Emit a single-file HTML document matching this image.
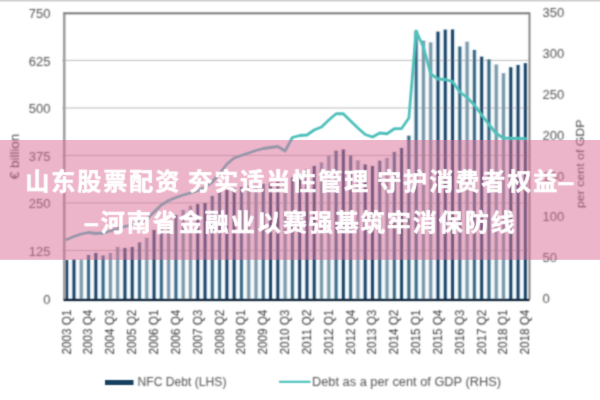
<!DOCTYPE html>
<html><head><meta charset="utf-8"><title>chart</title>
<style>html,body{margin:0;padding:0;background:#fff;}body{width:600px;height:400px;overflow:hidden;font-family:"Liberation Sans",sans-serif;}svg{display:block}</style>
</head><body>
<svg width="600" height="400" viewBox="0 0 600 400">
<defs><filter id="b" filterUnits="userSpaceOnUse" x="0" y="0" width="600" height="400"><feConvolveMatrix order="5" kernelMatrix="0.00003 0.00101 0.00331 0.00101 0.00003 0.00101 0.03529 0.11525 0.03529 0.00101 0.00331 0.11525 0.37636 0.11525 0.00331 0.00101 0.03529 0.11525 0.03529 0.00101 0.00003 0.00101 0.00331 0.00101 0.00003" edgeMode="none" preserveAlpha="false"/></filter>
<filter id="b3" filterUnits="userSpaceOnUse" x="0" y="0" width="600" height="400"><feConvolveMatrix order="5" kernelMatrix="0.00048 0.00501 0.01095 0.00501 0.00048 0.00501 0.05222 0.11405 0.05222 0.00501 0.01095 0.11405 0.24912 0.11405 0.01095 0.00501 0.05222 0.11405 0.05222 0.00501 0.00048 0.00501 0.01095 0.00501 0.00048" edgeMode="none" preserveAlpha="false"/></filter>
<filter id="b2" filterUnits="userSpaceOnUse" x="0" y="0" width="600" height="400"><feConvolveMatrix order="3" kernelMatrix="0.01134 0.08382 0.01134 0.08382 0.61935 0.08382 0.01134 0.08382 0.01134" edgeMode="none" preserveAlpha="false"/></filter></defs>
<rect width="600" height="400" fill="#fff"/>
<rect x="0" y="0" width="600" height="1.6" fill="#d2d2d2"/>
<g filter="url(#b)">
<rect x="62" y="59.9" width="467" height="1.1" fill="#c4c4c4"/>
<rect x="62" y="107.4" width="467" height="1.1" fill="#c4c4c4"/>
<rect x="62" y="154.9" width="467" height="1.1" fill="#c4c4c4"/>
<rect x="62" y="202.4" width="467" height="1.1" fill="#c4c4c4"/>
<rect x="62" y="249.9" width="467" height="1.1" fill="#c4c4c4"/>
<rect x="63.90" y="259.5" width="5.6" height="39.60" fill="#5b93b3" fill-opacity="0.2"/>
<rect x="65.25" y="260" width="2.9" height="39.60" fill="#1a4468"/>
<rect x="71.18" y="259.0" width="5.6" height="40.10" fill="#5b93b3" fill-opacity="0.2"/>
<rect x="72.53" y="259.5" width="2.9" height="40.10" fill="#1a4468"/>
<rect x="78.46" y="259.0" width="5.6" height="40.10" fill="#5b93b3" fill-opacity="0.2"/>
<rect x="79.81" y="259.5" width="2.9" height="40.10" fill="#7b99a8"/>
<rect x="85.74" y="254.5" width="5.6" height="44.60" fill="#5b93b3" fill-opacity="0.2"/>
<rect x="87.09" y="255" width="2.9" height="44.60" fill="#3a6a86"/>
<rect x="93.02" y="252.5" width="5.6" height="46.60" fill="#5b93b3" fill-opacity="0.2"/>
<rect x="94.37" y="253" width="2.9" height="46.60" fill="#1a4468"/>
<rect x="100.30" y="255.0" width="5.6" height="44.10" fill="#5b93b3" fill-opacity="0.2"/>
<rect x="101.65" y="255.5" width="2.9" height="44.10" fill="#3a6a86"/>
<rect x="107.58" y="252.5" width="5.6" height="46.60" fill="#5b93b3" fill-opacity="0.2"/>
<rect x="108.93" y="253" width="2.9" height="46.60" fill="#7b99a8"/>
<rect x="114.86" y="246.5" width="5.6" height="52.60" fill="#5b93b3" fill-opacity="0.2"/>
<rect x="116.21" y="247" width="2.9" height="52.60" fill="#7b99a8"/>
<rect x="122.14" y="247.5" width="5.6" height="51.60" fill="#5b93b3" fill-opacity="0.2"/>
<rect x="123.49" y="248" width="2.9" height="51.60" fill="#1a4468"/>
<rect x="129.42" y="246.5" width="5.6" height="52.60" fill="#5b93b3" fill-opacity="0.2"/>
<rect x="130.77" y="247" width="2.9" height="52.60" fill="#1a4468"/>
<rect x="136.70" y="242.0" width="5.6" height="57.10" fill="#5b93b3" fill-opacity="0.2"/>
<rect x="138.05" y="242.5" width="2.9" height="57.10" fill="#3a6a86"/>
<rect x="143.98" y="237.5" width="5.6" height="61.60" fill="#5b93b3" fill-opacity="0.2"/>
<rect x="145.33" y="238" width="2.9" height="61.60" fill="#7b99a8"/>
<rect x="151.26" y="229.5" width="5.6" height="69.60" fill="#5b93b3" fill-opacity="0.2"/>
<rect x="152.61" y="230" width="2.9" height="69.60" fill="#1a4468"/>
<rect x="158.54" y="227.0" width="5.6" height="72.10" fill="#5b93b3" fill-opacity="0.2"/>
<rect x="159.89" y="227.5" width="2.9" height="72.10" fill="#3a6a86"/>
<rect x="165.82" y="224.5" width="5.6" height="74.60" fill="#5b93b3" fill-opacity="0.2"/>
<rect x="167.17" y="225" width="2.9" height="74.60" fill="#7b99a8"/>
<rect x="173.10" y="214.5" width="5.6" height="84.60" fill="#5b93b3" fill-opacity="0.2"/>
<rect x="174.45" y="215" width="2.9" height="84.60" fill="#3a6a86"/>
<rect x="180.38" y="209.5" width="5.6" height="89.60" fill="#5b93b3" fill-opacity="0.2"/>
<rect x="181.73" y="210" width="2.9" height="89.60" fill="#7b99a8"/>
<rect x="187.66" y="205.5" width="5.6" height="93.60" fill="#5b93b3" fill-opacity="0.2"/>
<rect x="189.01" y="206" width="2.9" height="93.60" fill="#7b99a8"/>
<rect x="194.94" y="203.5" width="5.6" height="95.60" fill="#5b93b3" fill-opacity="0.2"/>
<rect x="196.29" y="204" width="2.9" height="95.60" fill="#1a4468"/>
<rect x="202.22" y="202.5" width="5.6" height="96.60" fill="#5b93b3" fill-opacity="0.2"/>
<rect x="203.57" y="203" width="2.9" height="96.60" fill="#1a4468"/>
<rect x="209.50" y="195.5" width="5.6" height="103.60" fill="#5b93b3" fill-opacity="0.2"/>
<rect x="210.85" y="196" width="2.9" height="103.60" fill="#3a6a86"/>
<rect x="216.78" y="191.5" width="5.6" height="107.60" fill="#5b93b3" fill-opacity="0.2"/>
<rect x="218.13" y="192" width="2.9" height="107.60" fill="#3a6a86"/>
<rect x="224.06" y="189.5" width="5.6" height="109.60" fill="#5b93b3" fill-opacity="0.2"/>
<rect x="225.41" y="190" width="2.9" height="109.60" fill="#1a4468"/>
<rect x="231.34" y="188.0" width="5.6" height="111.10" fill="#5b93b3" fill-opacity="0.2"/>
<rect x="232.69" y="188.5" width="2.9" height="111.10" fill="#1a4468"/>
<rect x="238.62" y="186.5" width="5.6" height="112.60" fill="#5b93b3" fill-opacity="0.2"/>
<rect x="239.97" y="187" width="2.9" height="112.60" fill="#3a6a86"/>
<rect x="245.90" y="185.5" width="5.6" height="113.60" fill="#5b93b3" fill-opacity="0.2"/>
<rect x="247.25" y="186" width="2.9" height="113.60" fill="#7b99a8"/>
<rect x="253.18" y="184.5" width="5.6" height="114.60" fill="#5b93b3" fill-opacity="0.2"/>
<rect x="254.53" y="185" width="2.9" height="114.60" fill="#7b99a8"/>
<rect x="260.46" y="183.5" width="5.6" height="115.60" fill="#5b93b3" fill-opacity="0.2"/>
<rect x="261.81" y="184" width="2.9" height="115.60" fill="#3a6a86"/>
<rect x="267.74" y="182.5" width="5.6" height="116.60" fill="#5b93b3" fill-opacity="0.2"/>
<rect x="269.09" y="183" width="2.9" height="116.60" fill="#1a4468"/>
<rect x="275.02" y="181.0" width="5.6" height="118.10" fill="#5b93b3" fill-opacity="0.2"/>
<rect x="276.37" y="181.5" width="2.9" height="118.10" fill="#1a4468"/>
<rect x="282.30" y="179.0" width="5.6" height="120.10" fill="#5b93b3" fill-opacity="0.2"/>
<rect x="283.65" y="179.5" width="2.9" height="120.10" fill="#7b99a8"/>
<rect x="289.58" y="177.0" width="5.6" height="122.10" fill="#5b93b3" fill-opacity="0.2"/>
<rect x="290.93" y="177.5" width="2.9" height="122.10" fill="#3a6a86"/>
<rect x="296.86" y="174.0" width="5.6" height="125.10" fill="#5b93b3" fill-opacity="0.2"/>
<rect x="298.21" y="174.5" width="2.9" height="125.10" fill="#1a4468"/>
<rect x="304.14" y="169.0" width="5.6" height="130.10" fill="#5b93b3" fill-opacity="0.2"/>
<rect x="305.49" y="169.5" width="2.9" height="130.10" fill="#1a4468"/>
<rect x="311.42" y="165.5" width="5.6" height="133.60" fill="#5b93b3" fill-opacity="0.2"/>
<rect x="312.77" y="166" width="2.9" height="133.60" fill="#1a4468"/>
<rect x="318.70" y="162.0" width="5.6" height="137.10" fill="#5b93b3" fill-opacity="0.2"/>
<rect x="320.05" y="162.5" width="2.9" height="137.10" fill="#7b99a8"/>
<rect x="325.98" y="155.5" width="5.6" height="143.60" fill="#5b93b3" fill-opacity="0.2"/>
<rect x="327.33" y="156" width="2.9" height="143.60" fill="#7b99a8"/>
<rect x="333.26" y="150.25" width="5.6" height="148.85" fill="#5b93b3" fill-opacity="0.2"/>
<rect x="334.61" y="150.75" width="2.9" height="148.85" fill="#3a6a86"/>
<rect x="340.54" y="149.0" width="5.6" height="150.10" fill="#5b93b3" fill-opacity="0.2"/>
<rect x="341.89" y="149.5" width="2.9" height="150.10" fill="#1a4468"/>
<rect x="347.82" y="155.0" width="5.6" height="144.10" fill="#5b93b3" fill-opacity="0.2"/>
<rect x="349.17" y="155.5" width="2.9" height="144.10" fill="#3a6a86"/>
<rect x="355.10" y="160.0" width="5.6" height="139.10" fill="#5b93b3" fill-opacity="0.2"/>
<rect x="356.45" y="160.5" width="2.9" height="139.10" fill="#7b99a8"/>
<rect x="362.38" y="164.0" width="5.6" height="135.10" fill="#5b93b3" fill-opacity="0.2"/>
<rect x="363.73" y="164.5" width="2.9" height="135.10" fill="#1a4468"/>
<rect x="369.66" y="165.5" width="5.6" height="133.60" fill="#5b93b3" fill-opacity="0.2"/>
<rect x="371.01" y="166" width="2.9" height="133.60" fill="#1a4468"/>
<rect x="376.94" y="160.25" width="5.6" height="138.85" fill="#5b93b3" fill-opacity="0.2"/>
<rect x="378.29" y="160.75" width="2.9" height="138.85" fill="#3a6a86"/>
<rect x="384.22" y="157.5" width="5.6" height="141.60" fill="#5b93b3" fill-opacity="0.2"/>
<rect x="385.57" y="158" width="2.9" height="141.60" fill="#7b99a8"/>
<rect x="391.50" y="151.5" width="5.6" height="147.60" fill="#5b93b3" fill-opacity="0.2"/>
<rect x="392.85" y="152" width="2.9" height="147.60" fill="#3a6a86"/>
<rect x="398.78" y="147.5" width="5.6" height="151.60" fill="#5b93b3" fill-opacity="0.2"/>
<rect x="400.13" y="148" width="2.9" height="151.60" fill="#1a4468"/>
<rect x="406.06" y="135.25" width="5.6" height="163.85" fill="#5b93b3" fill-opacity="0.2"/>
<rect x="407.41" y="135.75" width="2.9" height="163.85" fill="#3a6a86"/>
<rect x="413.34" y="30.5" width="5.6" height="268.60" fill="#5b93b3" fill-opacity="0.2"/>
<rect x="414.69" y="31" width="2.9" height="268.60" fill="#3a6a86"/>
<rect x="420.62" y="40.2" width="5.6" height="258.90" fill="#5b93b3" fill-opacity="0.2"/>
<rect x="421.97" y="40.7" width="2.9" height="258.90" fill="#7b99a8"/>
<rect x="427.90" y="42.0" width="5.6" height="257.10" fill="#5b93b3" fill-opacity="0.2"/>
<rect x="429.25" y="42.5" width="2.9" height="257.10" fill="#7b99a8"/>
<rect x="435.18" y="31.2" width="5.6" height="267.90" fill="#5b93b3" fill-opacity="0.2"/>
<rect x="436.53" y="31.7" width="2.9" height="267.90" fill="#1a4468"/>
<rect x="442.46" y="29.2" width="5.6" height="269.90" fill="#5b93b3" fill-opacity="0.2"/>
<rect x="443.81" y="29.7" width="2.9" height="269.90" fill="#1a4468"/>
<rect x="449.74" y="29.0" width="5.6" height="270.10" fill="#5b93b3" fill-opacity="0.2"/>
<rect x="451.09" y="29.5" width="2.9" height="270.10" fill="#1a4468"/>
<rect x="457.02" y="46.1" width="5.6" height="253.00" fill="#5b93b3" fill-opacity="0.2"/>
<rect x="458.37" y="46.6" width="2.9" height="253.00" fill="#3a6a86"/>
<rect x="464.30" y="41.3" width="5.6" height="257.80" fill="#5b93b3" fill-opacity="0.2"/>
<rect x="465.65" y="41.8" width="2.9" height="257.80" fill="#7b99a8"/>
<rect x="471.58" y="49.5" width="5.6" height="249.60" fill="#5b93b3" fill-opacity="0.2"/>
<rect x="472.93" y="50" width="2.9" height="249.60" fill="#3a6a86"/>
<rect x="478.86" y="56.2" width="5.6" height="242.90" fill="#5b93b3" fill-opacity="0.2"/>
<rect x="480.21" y="56.7" width="2.9" height="242.90" fill="#1a4468"/>
<rect x="486.14" y="58.9" width="5.6" height="240.20" fill="#5b93b3" fill-opacity="0.2"/>
<rect x="487.49" y="59.4" width="2.9" height="240.20" fill="#3a6a86"/>
<rect x="493.42" y="64.1" width="5.6" height="235.00" fill="#5b93b3" fill-opacity="0.2"/>
<rect x="494.77" y="64.6" width="2.9" height="235.00" fill="#7b99a8"/>
<rect x="500.70" y="72.8" width="5.6" height="226.30" fill="#5b93b3" fill-opacity="0.2"/>
<rect x="502.05" y="73.3" width="2.9" height="226.30" fill="#7b99a8"/>
<rect x="507.98" y="66.8" width="5.6" height="232.30" fill="#5b93b3" fill-opacity="0.2"/>
<rect x="509.33" y="67.3" width="2.9" height="232.30" fill="#1a4468"/>
<rect x="515.26" y="64.5" width="5.6" height="234.60" fill="#5b93b3" fill-opacity="0.2"/>
<rect x="516.61" y="65" width="2.9" height="234.60" fill="#1a4468"/>
<rect x="522.54" y="62.7" width="5.6" height="236.40" fill="#5b93b3" fill-opacity="0.2"/>
<rect x="523.89" y="63.2" width="2.9" height="236.40" fill="#1a4468"/>
<rect x="62.9" y="12.5" width="2.7" height="287" fill="#a2a2a2"/>
<rect x="63.5" y="12.2" width="466.5" height="2.2" fill="#868686"/>
<rect x="528.5" y="12.5" width="2" height="287" fill="#8a8a8a"/>
<rect x="63.5" y="298.8" width="466" height="2.3" fill="#14273b"/>
<polyline points="66.7,239.5 74.0,236.5 81.3,234 88.5,232.5 95.8,233.5 103.1,233 110.4,231 117.7,228.5 124.9,226.5 132.2,224.5 139.5,222 146.8,219 154.1,212 161.3,205 168.6,200.5 175.9,197.5 183.2,195 190.5,193 197.7,190.5 205.0,187.5 212.3,182 219.6,173.5 226.9,164 234.1,158 241.4,155.5 248.7,153 256.0,150.5 263.3,148.5 270.5,147.5 277.8,146.5 285.1,151 292.4,137.5 299.7,135.5 306.9,135 314.2,130 321.5,127 328.8,120 336.1,113.75 343.3,113.75 350.6,121 357.9,128 365.2,134.5 372.5,137 379.7,133 387.0,133.75 394.3,128.75 401.6,128.5 408.9,118 416.1,31 423.4,47 430.7,74 438.0,79 445.3,79.5 452.5,81.5 459.8,92 467.1,97.5 474.4,105 481.7,115 488.9,124.5 496.2,133.5 503.5,138 510.8,138.5 518.1,138.5 525.3,138.75" fill="none" stroke="#4fc0bb" stroke-width="2.8" stroke-linejoin="round" stroke-linecap="round"/>
<rect x="105" y="380" width="28.5" height="5" fill="#123f5f"/>
<rect x="279" y="380.7" width="31.5" height="2.2" fill="#4fc0bb"/>
</g>
<g filter="url(#b3)" font-family="Liberation Sans, sans-serif" font-size="12.5" fill="#505050"><text x="50.5" y="18.0" text-anchor="end" font-size="13">750</text><text x="50.5" y="65.5" text-anchor="end" font-size="13">625</text><text x="50.5" y="113.0" text-anchor="end" font-size="13">500</text><text x="50.5" y="160.5" text-anchor="end" font-size="13">375</text><text x="50.5" y="208.0" text-anchor="end" font-size="13">250</text><text x="50.5" y="255.5" text-anchor="end" font-size="13">125</text><text x="50.5" y="304.0" text-anchor="end" font-size="13">0</text><text x="542.5" y="17.4" font-size="13">350</text><text x="542.5" y="58.18571428571428" font-size="13">300</text><text x="542.5" y="98.97142857142858" font-size="13">250</text><text x="542.5" y="139.75714285714287" font-size="13">200</text><text x="542.5" y="180.54285714285714" font-size="13">150</text><text x="542.5" y="221.32857142857142" font-size="13">100</text><text x="542.5" y="262.1142857142857" font-size="13">50</text><text x="542.5" y="302.9" font-size="13">0</text><text fill="#383838" transform="translate(70.6,354.6) rotate(-90)" textLength="45" lengthAdjust="spacingAndGlyphs">2003 Q1</text><text fill="#383838" transform="translate(92.4,354.6) rotate(-90)" textLength="45" lengthAdjust="spacingAndGlyphs">2003 Q4</text><text fill="#383838" transform="translate(114.3,354.6) rotate(-90)" textLength="45" lengthAdjust="spacingAndGlyphs">2004 Q3</text><text fill="#383838" transform="translate(136.1,354.6) rotate(-90)" textLength="45" lengthAdjust="spacingAndGlyphs">2005 Q2</text><text fill="#383838" transform="translate(158.0,354.6) rotate(-90)" textLength="45" lengthAdjust="spacingAndGlyphs">2006 Q1</text><text fill="#383838" transform="translate(179.8,354.6) rotate(-90)" textLength="45" lengthAdjust="spacingAndGlyphs">2006 Q4</text><text fill="#383838" transform="translate(201.6,354.6) rotate(-90)" textLength="45" lengthAdjust="spacingAndGlyphs">2007 Q3</text><text fill="#383838" transform="translate(223.5,354.6) rotate(-90)" textLength="45" lengthAdjust="spacingAndGlyphs">2008 Q2</text><text fill="#383838" transform="translate(245.3,354.6) rotate(-90)" textLength="45" lengthAdjust="spacingAndGlyphs">2009 Q1</text><text fill="#383838" transform="translate(267.2,354.6) rotate(-90)" textLength="45" lengthAdjust="spacingAndGlyphs">2009 Q4</text><text fill="#383838" transform="translate(289.0,354.6) rotate(-90)" textLength="45" lengthAdjust="spacingAndGlyphs">2010 Q3</text><text fill="#383838" transform="translate(310.8,354.6) rotate(-90)" textLength="45" lengthAdjust="spacingAndGlyphs">2011 Q2</text><text fill="#383838" transform="translate(332.7,354.6) rotate(-90)" textLength="45" lengthAdjust="spacingAndGlyphs">2012 Q1</text><text fill="#383838" transform="translate(354.5,354.6) rotate(-90)" textLength="45" lengthAdjust="spacingAndGlyphs">2012 Q4</text><text fill="#383838" transform="translate(376.4,354.6) rotate(-90)" textLength="45" lengthAdjust="spacingAndGlyphs">2013 Q3</text><text fill="#383838" transform="translate(398.2,354.6) rotate(-90)" textLength="45" lengthAdjust="spacingAndGlyphs">2014 Q2</text><text fill="#383838" transform="translate(420.0,354.6) rotate(-90)" textLength="45" lengthAdjust="spacingAndGlyphs">2015 Q1</text><text fill="#383838" transform="translate(441.9,354.6) rotate(-90)" textLength="45" lengthAdjust="spacingAndGlyphs">2015 Q4</text><text fill="#383838" transform="translate(463.7,354.6) rotate(-90)" textLength="45" lengthAdjust="spacingAndGlyphs">2016 Q3</text><text fill="#383838" transform="translate(485.6,354.6) rotate(-90)" textLength="45" lengthAdjust="spacingAndGlyphs">2017 Q2</text><text fill="#383838" transform="translate(507.4,354.6) rotate(-90)" textLength="45" lengthAdjust="spacingAndGlyphs">2018 Q1</text><text fill="#383838" transform="translate(529.2,354.6) rotate(-90)" textLength="45" lengthAdjust="spacingAndGlyphs">2018 Q4</text><text transform="translate(19.2,179.2) rotate(-90)" fill="#383838" textLength="45.5" lengthAdjust="spacingAndGlyphs">€ billion</text><text transform="translate(584,208) rotate(-90)" fill="#444" font-size="11.5" textLength="88.5" lengthAdjust="spacingAndGlyphs">per cent of GDP</text><text x="137.5" y="385.7" textLength="89" lengthAdjust="spacingAndGlyphs">NFC Debt (LHS)</text><text x="312" y="385.7" textLength="189" lengthAdjust="spacingAndGlyphs">Debt as a per cent of GDP (RHS)</text></g>
<rect x="0" y="140" width="600" height="119.80000000000001" fill="rgb(219,107,149)" fill-opacity="0.5"/>
<g filter="url(#b2)">
<g fill="#fff" stroke="#fff" stroke-width="0.6" stroke-linejoin="round" font-family="'Liberation Sans', 'Noto Sans CJK SC', sans-serif" font-size="24" font-weight="bold">
<text x="25.3" y="189.8" letter-spacing="2">山东股票配资</text>
<text x="188.3" y="189.8" letter-spacing="2">夯实适当性管理</text>
<text x="377.3" y="189.8" letter-spacing="2">守护消费者权益</text>
<text x="558.6" y="189.8" textLength="14.8" lengthAdjust="spacingAndGlyphs">—</text>
<text x="84.8" y="230.5" textLength="13.2" lengthAdjust="spacingAndGlyphs">—</text>
<text x="100.8" y="230.5" letter-spacing="2">河南省金融业以赛强基筑牢消保防线</text>
</g>
</g>
</svg>
</body></html>
